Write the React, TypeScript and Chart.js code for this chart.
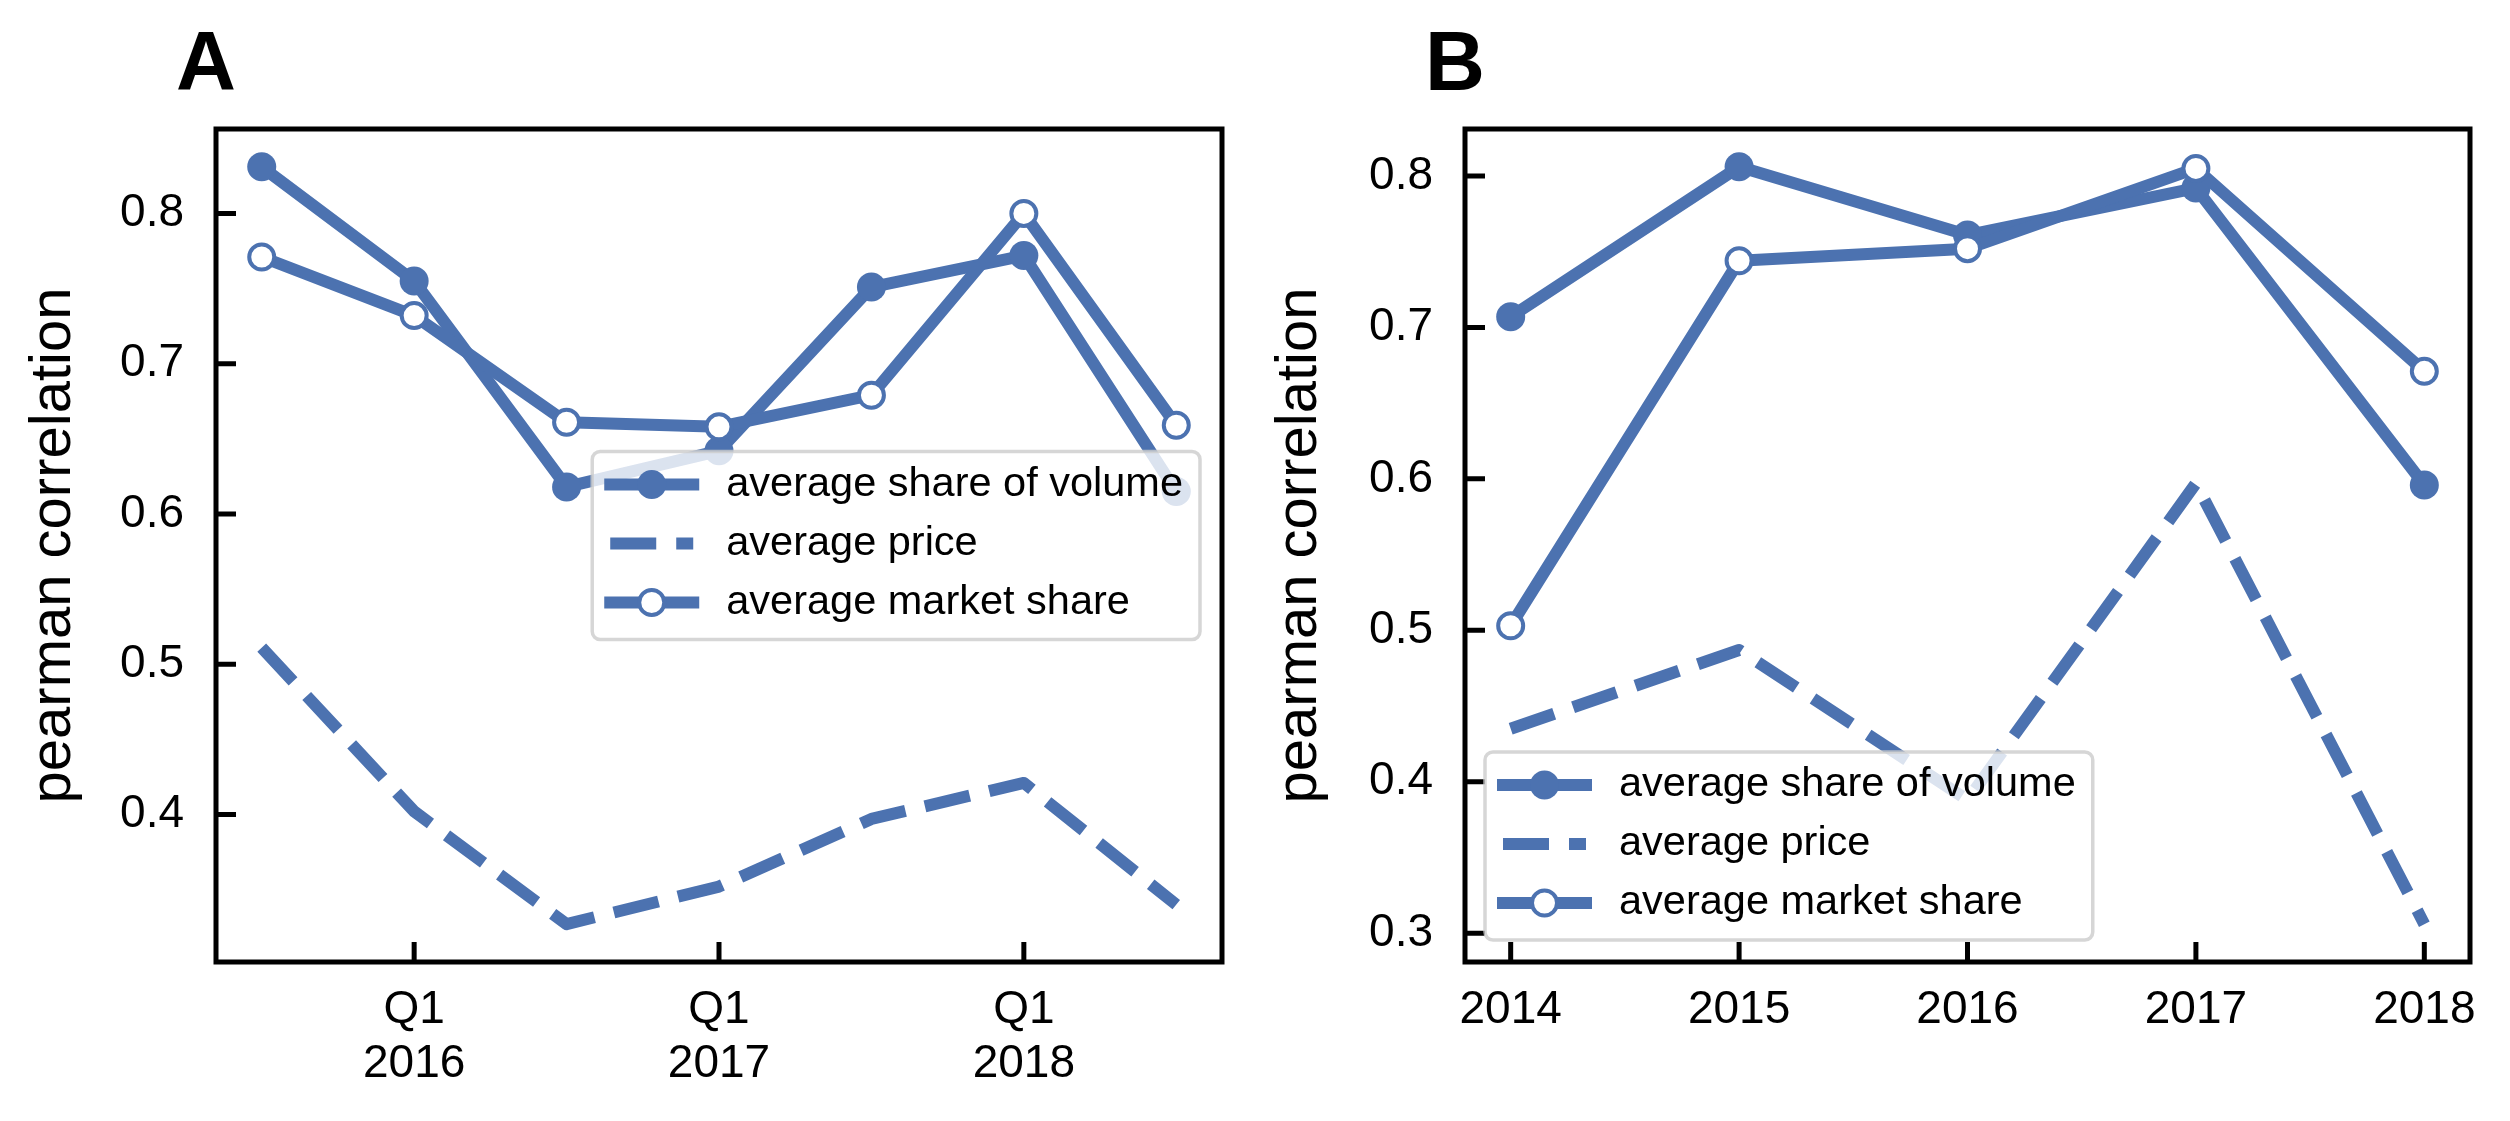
import React, { useEffect, useRef } from 'react';
import { Chart, registerables } from 'chart.js';

Chart.register(...registerables);

const BLUE = '#4C72B0';
const FONT = '"Liberation Sans", Arial, Helvetica, sans-serif';

const seriesNames = ['average share of volume', 'average price', 'average market share'];
const yAxisTitle = 'pearman correlation';

// Panel A (half-yearly periods)
const periodsA = ['2015Q3', '2016Q1', '2016Q3', '2017Q1', '2017Q3', '2018Q1', '2018Q3'];
const volumeA = [0.831, 0.755, 0.618, 0.642, 0.751, 0.772, 0.615];
const priceA = [0.511, 0.402, 0.327, 0.352, 0.397, 0.421, 0.34];
const marketA = [0.771, 0.732, 0.661, 0.658, 0.679, 0.8, 0.659];
const xTickPeriodsA = ['2016Q1', '2017Q1', '2018Q1'];
const xTickLabelsA = [['Q1', '2016'], ['Q1', '2017'], ['Q1', '2018']];
const yTicksA = [0.4, 0.5, 0.6, 0.7, 0.8];

// Panel B (yearly)
const yearsB = [2014, 2015, 2016, 2017, 2018];
const volumeB = [0.707, 0.806, 0.761, 0.792, 0.596];
const priceB = [0.435, 0.487, 0.388, 0.597, 0.306];
const marketB = [0.503, 0.744, 0.752, 0.805, 0.671];
const xTickLabelsB = ['2014', '2015', '2016', '2017', '2018'];
const yTicksB = [0.3, 0.4, 0.5, 0.6, 0.7, 0.8];

const W = 2510;
const H = 1121;
const HALF = 1255;

function quarterIndex(p: string) {
  const [y, q] = p.split('Q');
  return Number(y) * 4 + Number(q) - 1;
}

function paddedRange(vals: number[], frac = 0.05) {
  const lo = Math.min(...vals);
  const hi = Math.max(...vals);
  const pad = (hi - lo) * frac;
  return [lo - pad, hi + pad];
}

type Style = { dash: number[]; marker: 'filled' | 'open' | 'none' };
const seriesStyles: Style[] = [
  { dash: [], marker: 'filled' },
  { dash: [46, 20], marker: 'none' },
  { dash: [], marker: 'open' },
];

const LINE_W = 12;
const FILLED_R = 14.5;
const OPEN_R = 12.5;
const OPEN_BW = 4;

function drawMarker(ctx: CanvasRenderingContext2D, x: number, y: number, kind: Style['marker']) {
  if (kind === 'none') return;
  ctx.beginPath();
  if (kind === 'filled') {
    ctx.arc(x, y, FILLED_R, 0, Math.PI * 2);
    ctx.fillStyle = BLUE;
    ctx.fill();
  } else {
    ctx.arc(x, y, OPEN_R, 0, Math.PI * 2);
    ctx.fillStyle = '#fff';
    ctx.fill();
    ctx.lineWidth = OPEN_BW;
    ctx.strokeStyle = BLUE;
    ctx.setLineDash([]);
    ctx.stroke();
  }
}

function drawLegend(ctx: CanvasRenderingContext2D, a: any, anchor: string) {
  ctx.save();
  ctx.font = `41.5px ${FONT}`;
  const textW = Math.max(...seriesNames.map((n) => ctx.measureText(n).width));
  const w = 134 + textW + 17;
  const h = 188;
  let left: number;
  let top: number;
  if (anchor === 'centerRight') {
    left = a.right - 22 - w;
    top = (a.top + a.bottom) / 2 - h / 2;
  } else {
    left = a.left + 20;
    top = a.bottom - 22 - h;
  }
  ctx.beginPath();
  if ((ctx as any).roundRect) (ctx as any).roundRect(left, top, w, h, 8);
  else ctx.rect(left, top, w, h);
  ctx.fillStyle = 'rgba(255,255,255,0.8)';
  ctx.fill();
  ctx.lineWidth = 3.5;
  ctx.strokeStyle = 'rgba(204,204,204,0.8)';
  ctx.stroke();

  seriesNames.forEach((name, i) => {
    const st = seriesStyles[i];
    const y = top + 33 + i * 59;
    const x0 = left + 18;
    const x1 = x0 + 83;
    ctx.beginPath();
    ctx.moveTo(x0, y);
    ctx.lineTo(x1, y);
    ctx.lineWidth = LINE_W;
    ctx.strokeStyle = BLUE;
    ctx.setLineDash(st.dash);
    ctx.lineCap = st.dash.length ? 'butt' : 'square';
    ctx.stroke();
    ctx.setLineDash([]);
    ctx.lineCap = 'butt';
    drawMarker(ctx, (x0 + x1) / 2, y, st.marker);
    ctx.fillStyle = '#000';
    ctx.textBaseline = 'middle';
    ctx.textAlign = 'left';
    ctx.font = `41.5px ${FONT}`;
    ctx.fillText(name, left + 134, y);
  });
  ctx.restore();
}

const panelDecor = {
  id: 'panelDecor',
  afterDatasetsDraw(chart: any, _args: any, opts: any) {
    const { ctx, chartArea: a, scales } = chart;
    ctx.save();
    ctx.setLineDash([]);
    ctx.strokeStyle = '#000';
    ctx.lineWidth = 5;
    ctx.strokeRect(a.left, a.top, a.right - a.left, a.bottom - a.top);
    ctx.beginPath();
    scales.x.ticks.forEach((t: any) => {
      const px = scales.x.getPixelForValue(t.value);
      ctx.moveTo(px, a.bottom);
      ctx.lineTo(px, a.bottom - 20);
    });
    scales.y.ticks.forEach((t: any) => {
      const py = scales.y.getPixelForValue(t.value);
      ctx.moveTo(a.left, py);
      ctx.lineTo(a.left + 20, py);
    });
    ctx.lineWidth = 5;
    ctx.stroke();
    ctx.fillStyle = '#000';
    ctx.font = `bold 83px ${FONT}`;
    ctx.textBaseline = 'alphabetic';
    ctx.textAlign = 'left';
    ctx.fillText(opts.letter, a.left - 40, a.top - 39);
    ctx.restore();
    drawLegend(ctx, a, opts.legendAnchor);
  },
};

function makeDatasets(xs: number[], vol: number[], price: number[], market: number[]) {
  const pts = (ys: number[]) => xs.map((x, i) => ({ x, y: ys[i] }));
  const common = {
    borderColor: BLUE,
    borderWidth: LINE_W,
    borderJoinStyle: 'round' as const,
    borderCapStyle: 'butt' as const,
    fill: false,
    tension: 0,
  };
  return [
    {
      ...common,
      label: seriesNames[0],
      data: pts(vol),
      pointRadius: FILLED_R,
      pointBackgroundColor: BLUE,
      pointBorderWidth: 0,
      order: 2,
    },
    {
      ...common,
      label: seriesNames[1],
      data: pts(price),
      borderDash: seriesStyles[1].dash,
      pointRadius: 0,
      order: 1,
    },
    {
      ...common,
      label: seriesNames[2],
      data: pts(market),
      pointRadius: OPEN_R,
      pointBackgroundColor: '#fff',
      pointBorderColor: BLUE,
      pointBorderWidth: OPEN_BW,
      order: 0,
    },
  ];
}

function baseConfig(opts: {
  datasets: any[];
  xRange: number[];
  yRange: number[];
  xTicks: number[];
  xLabel: (v: number) => any;
  yTicks: number[];
  yWidth: number;
  rightPad: number;
  titlePad: number;
  letter: string;
  legendAnchor: string;
}) {
  return {
    type: 'line' as const,
    data: { datasets: opts.datasets },
    options: {
      animation: false as const,
      responsive: false,
      devicePixelRatio: 1,
      layout: { padding: { top: 129, right: opts.rightPad, left: 0, bottom: 0 } },
      plugins: {
        legend: { display: false },
        tooltip: { enabled: false },
        panelDecor: { letter: opts.letter, legendAnchor: opts.legendAnchor },
      },
      scales: {
        x: {
          type: 'linear' as const,
          min: opts.xRange[0],
          max: opts.xRange[1],
          afterBuildTicks: (s: any) => {
            s.ticks = opts.xTicks.map((v) => ({ value: v }));
          },
          afterFit: (s: any) => {
            s.height = 159;
          },
          grid: { display: false, drawTicks: false, tickLength: 0 },
          border: { display: false },
          ticks: {
            padding: 21,
            autoSkip: false,
            maxRotation: 0,
            minRotation: 0,
            color: '#000',
            font: { family: FONT, size: 46, lineHeight: 1.174 },
            callback: (v: any) => opts.xLabel(Number(v)),
          },
        },
        y: {
          type: 'linear' as const,
          min: opts.yRange[0],
          max: opts.yRange[1],
          afterBuildTicks: (s: any) => {
            s.ticks = opts.yTicks.map((v) => ({ value: v }));
          },
          afterFit: (s: any) => {
            s.width = opts.yWidth;
          },
          grid: { display: false, drawTicks: false, tickLength: 0 },
          border: { display: false },
          ticks: {
            padding: 32,
            color: '#000',
            font: { family: FONT, size: 46 },
            callback: (v: any) => Number(v).toFixed(1),
          },
          title: {
            display: true,
            text: yAxisTitle,
            color: '#000',
            font: { family: FONT, size: 58, lineHeight: 1 },
            padding: { top: opts.titlePad, bottom: 0 },
          },
        },
      },
    },
    plugins: [panelDecor],
  };
}

export default function App() {
  const refA = useRef<HTMLCanvasElement>(null);
  const refB = useRef<HTMLCanvasElement>(null);

  useEffect(() => {
    const xA = periodsA.map(quarterIndex);
    const x0 = xA[0];
    const xsA = xA.map((v) => v - x0);
    const tickXA = xTickPeriodsA.map((p) => quarterIndex(p) - x0);
    const chartA = new Chart(
      refA.current as HTMLCanvasElement,
      baseConfig({
        datasets: makeDatasets(xsA, volumeA, priceA, marketA),
        xRange: paddedRange(xsA),
        yRange: paddedRange([...volumeA, ...priceA, ...marketA]),
        xTicks: tickXA,
        xLabel: (v) => {
          const i = tickXA.indexOf(Math.round(v));
          return i >= 0 ? xTickLabelsA[i] : '';
        },
        yTicks: yTicksA,
        yWidth: 216,
        rightPad: HALF - 1222,
        titlePad: 24.5,
        letter: 'A',
        legendAnchor: 'centerRight',
      }) as any
    );

    const chartB = new Chart(
      refB.current as HTMLCanvasElement,
      baseConfig({
        datasets: makeDatasets(yearsB, volumeB, priceB, marketB),
        xRange: paddedRange(yearsB),
        yRange: paddedRange([...volumeB, ...priceB, ...marketB]),
        xTicks: yearsB,
        xLabel: (v) => {
          const i = yearsB.indexOf(Math.round(v));
          return i >= 0 ? xTickLabelsB[i] : '';
        },
        yTicks: yTicksB,
        yWidth: 210,
        rightPad: HALF - 1215,
        titlePad: 15.5,
        letter: 'B',
        legendAnchor: 'lowerLeft',
      }) as any
    );

    return () => {
      chartA.destroy();
      chartB.destroy();
    };
  }, []);

  return (
    <div style={{ position: 'fixed', left: 0, top: 0, width: W, height: H, background: '#fff' }}>
      <canvas
        ref={refA}
        width={HALF}
        height={H}
        style={{ position: 'absolute', left: 0, top: 0, width: HALF, height: H, display: 'block' }}
      />
      <canvas
        ref={refB}
        width={HALF}
        height={H}
        style={{ position: 'absolute', left: HALF, top: 0, width: HALF, height: H, display: 'block' }}
      />
    </div>
  );
}
